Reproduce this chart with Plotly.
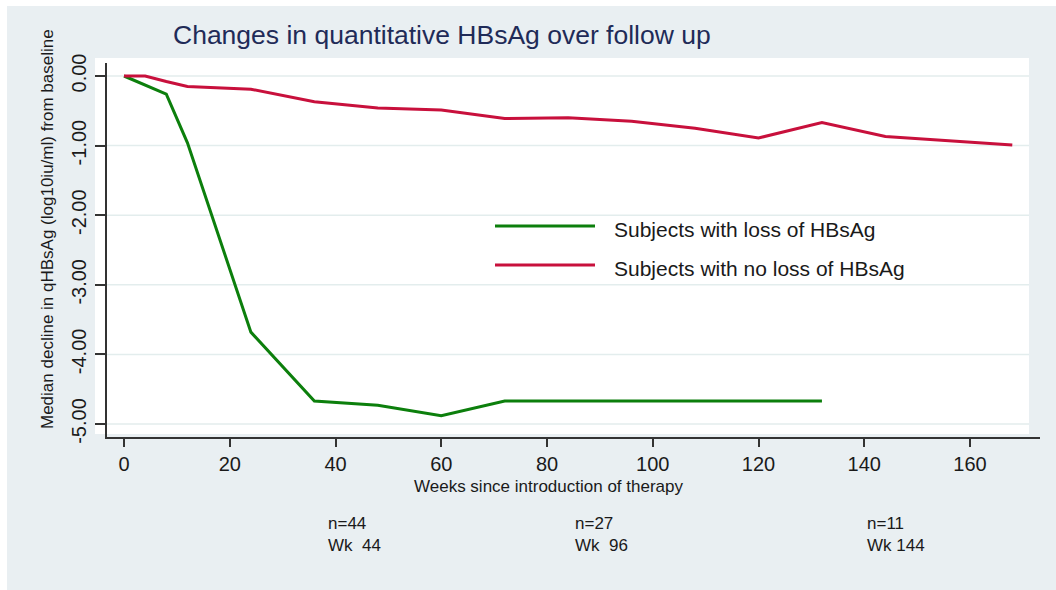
import plotly.graph_objects as go

# ---- data ----
weeks_loss = [0, 8, 12, 24, 36, 48, 60, 72, 84, 96, 108, 120, 132]
decline_loss = [0.0, -0.26, -0.96, -3.68, -4.67, -4.73, -4.88, -4.67, -4.67, -4.67, -4.67, -4.67, -4.67]

weeks_noloss = [0, 4, 8, 12, 24, 36, 48, 60, 72, 84, 96, 108, 120, 132, 144, 168]
decline_noloss = [0.0, 0.0, -0.08, -0.15, -0.19, -0.37, -0.46, -0.49, -0.61, -0.60, -0.65, -0.75, -0.89, -0.67, -0.87, -0.99]

series_names = ["Subjects with loss of HBsAg", "Subjects with no loss of HBsAg"]
series_colors = ["#0c7f0c", "#c8103c"]

x_ticks = [0, 20, 40, 60, 80, 100, 120, 140, 160]
y_ticks = [0, -1, -2, -3, -4, -5]
y_ticktext = ["0.00", "-1.00", "-2.00", "-3.00", "-4.00", "-5.00"]

n_notes = [("n=44", "Wk\u00a0\u00a044", 38.2), ("n=27", "Wk\u00a0\u00a096", 84.9), ("n=11", "Wk\u00a0144", 140.1)]

# ---- geometry helpers (pixel -> paper) ----
W, H = 1056, 590
L, R, T, B = 107, 16, 63, 153
PW, PH = W - L - R, H - T - B


def px(x):
    return (x - L) / PW


def py(y):
    return (H - B - y) / PH


FONT = "Liberation Sans, Arial, sans-serif"
BG = "#e9eff2"

fig = go.Figure()
fig.add_trace(go.Scatter(x=weeks_loss, y=decline_loss, mode="lines", name=series_names[0],
                         line=dict(color=series_colors[0], width=3), showlegend=False))
fig.add_trace(go.Scatter(x=weeks_noloss, y=decline_noloss, mode="lines", name=series_names[1],
                         line=dict(color=series_colors[1], width=3), showlegend=False))

shapes = []
# outer bluish-grey graph region
shapes.append(dict(type="rect", xref="paper", yref="paper", x0=px(7), x1=px(1060), y0=py(594), y1=py(6),
                   fillcolor=BG, line=dict(width=0), layer="below"))
# white plot region
shapes.append(dict(type="rect", xref="paper", yref="paper", x0=px(95), x1=px(1029), y0=py(434), y1=py(58),
                   fillcolor="white", line=dict(width=0), layer="below"))
# horizontal grid lines
for v in y_ticks:
    shapes.append(dict(type="line", xref="paper", yref="y", x0=px(95), x1=px(1029), y0=v, y1=v,
                       line=dict(color="#e3eded", width=1.5), layer="below"))
# legend samples
for i, c in enumerate(series_colors):
    yy = [226, 265][i]
    shapes.append(dict(type="line", xref="paper", yref="paper", x0=px(495), x1=px(595), y0=py(yy), y1=py(yy),
                       line=dict(color=c, width=3), layer="above"))

annotations = []
for i, name in enumerate(series_names):
    yy = [229, 268][i]
    annotations.append(dict(text=name, xref="paper", yref="paper", x=px(612), y=py(yy),
                            xanchor="left", yanchor="middle", showarrow=False,
                            font=dict(family=FONT, size=21, color="#1a1a1a")))
# title
annotations.append(dict(text="Changes in quantitative HBsAg over follow up", xref="paper", yref="paper",
                        x=px(171), y=py(35), xanchor="left", yanchor="middle", showarrow=False,
                        font=dict(family=FONT, size=26.5, color="#1f2b58")))
# axis titles
annotations.append(dict(text="Median decline in qHBsAg (log10iu/ml) from baseline", xref="paper", yref="paper",
                        x=px(47), y=py(229), xanchor="center", yanchor="middle", textangle=-90,
                        showarrow=False, font=dict(family=FONT, size=17, color="#1a1a1a")))
annotations.append(dict(text="Weeks since introduction of therapy", xref="paper", yref="paper",
                        x=px(548), y=py(486), xanchor="center", yanchor="middle", showarrow=False,
                        font=dict(family=FONT, size=17, color="#1a1a1a")))
# n / week notes
for n_txt, wk_txt, xv in n_notes:
    annotations.append(dict(text=n_txt + "<br>" + wk_txt, xref="x", yref="paper", x=xv, y=py(534),
                            xanchor="left", yanchor="middle", align="left", showarrow=False,
                            font=dict(family=FONT, size=17, color="#1a1a1a")))

fig.update_layout(
    width=W, height=H,
    margin=dict(l=L, r=R, t=T, b=B, pad=0),
    paper_bgcolor="white",
    plot_bgcolor="rgba(0,0,0,0)",
    shapes=shapes,
    annotations=annotations,
    showlegend=False,
    xaxis=dict(range=[-3.215, 173.24], tickvals=x_ticks, ticks="outside", ticklen=8, tickwidth=1.5,
               tickcolor="#333333", showline=True, linecolor="#333333", linewidth=1.5,
               showgrid=False, zeroline=False, ticklabelstandoff=0,
               tickfont=dict(family=FONT, size=20, color="#1a1a1a")),
    yaxis=dict(range=[-5.1868, 0.1868], tickvals=y_ticks, ticktext=y_ticktext, tickangle=-90,
               ticks="outside", ticklen=10, tickwidth=1.5, tickcolor="#333333",
               showline=True, linecolor="#333333", linewidth=1.5, showgrid=False, zeroline=False,
               ticklabelstandoff=1,
               tickfont=dict(family=FONT, size=20, color="#1a1a1a")),
)

fig.write_html("out.html", config={"displayModeBar": False},
               post_script="document.body.style.margin='0';document.body.style.padding='0';")
